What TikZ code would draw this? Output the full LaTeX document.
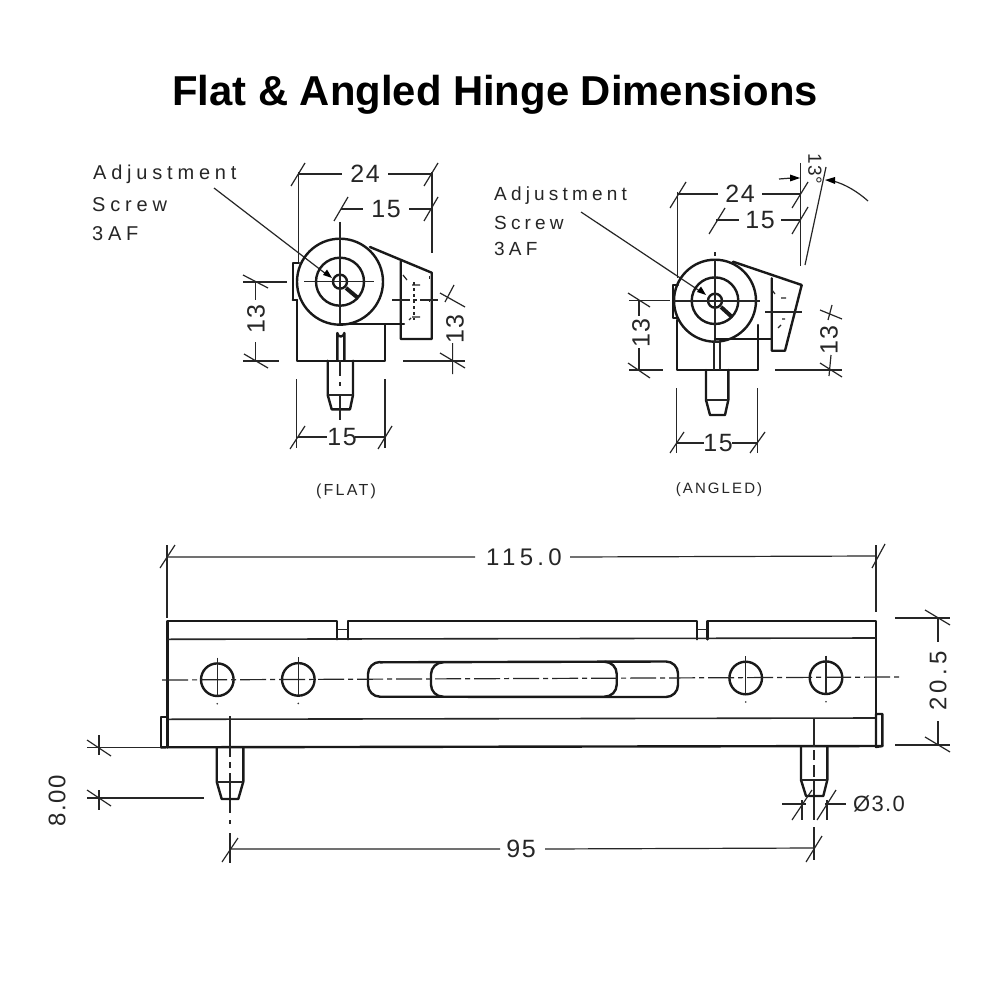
\documentclass[tikz,border=0pt]{standalone}
\usepackage{fontspec}
\setmainfont{Liberation Sans}
\newfontfamily\plotfont[LetterSpace=24]{Liberation Sans}
\newfontfamily\plottwo[LetterSpace=22]{Liberation Sans}
\newfontfamily\capfont[LetterSpace=14]{Liberation Sans}
\newfontfamily\dimfont[LetterSpace=6]{Liberation Sans}
\newfontfamily\widefont[LetterSpace=18]{Liberation Sans}
\tikzset{
  heavy/.style={line width=2.4pt,line join=round,line cap=round,black!90},
  medium/.style={line width=1.6pt,line join=round,black!85},
  thin/.style={line width=1.2pt,black!85},
  centre/.style={line width=1.2pt,black!85,dash pattern=on 26pt off 4pt on 5pt off 4pt},
  lbl/.style={font=\plotfont\fontsize{20}{20}\selectfont,text=black!85,inner sep=0pt,anchor=west},
  lbltwo/.style={font=\plottwo\fontsize{19}{19}\selectfont,text=black!85,inner sep=0pt,anchor=west},
  dimtxt/.style={font=\dimfont\fontsize{25}{26}\selectfont,text=black!85,inner sep=0pt},
  widetxt/.style={font=\widefont\fontsize{24}{26}\selectfont,text=black!85,inner sep=0pt},
  smalltxt/.style={font=\capfont\fontsize{16}{18}\selectfont,text=black!85,inner sep=0pt},
}
\begin{document}
\begin{tikzpicture}[x=1pt,y=-1pt]
\useasboundingbox (0,0) rectangle (1000,1000);
\fill[white] (0,0) rectangle (1000,1000);
\node[font=\bfseries\fontsize{41.8}{46}\selectfont,inner sep=0pt] (title) at (495,94.5) {Flat \& Angled Hinge Dimensions};

% ---------- FLAT VIEW ----------
\node[lbl] (flata) at (93,174.5) {Adjustment};
\node[lbl] (flatb) at (92,204.5) {Screw};
\node[lbl] (flatc) at (92,233.5) {3AF};
\draw[thin] (214,188) -- (328,275.5);
\fill (332,278) -- (323,275) -- (327,269.5) -- cycle;
\draw[heavy] (340,281.7) circle (43);
\draw[heavy] (340,281.7) circle (24);
\draw[heavy] (340,281.7) circle (7);
\draw[line width=4pt,black!90] (346,288) -- (358,298);
\draw[thin] (340,222) -- (340,325);
\draw[thin] (304,281.7) -- (374,281.7);
\draw[heavy] (296.7,300) -- (296.7,360.7) -- (385,360.7) -- (385,325);
\draw[heavy] (340,324) -- (404,324);
\draw[heavy] (370,247) -- (431.7,272.7) -- (431.7,339) -- (400.7,339) -- (400.7,261.7);
\draw[heavy] (292.7,300) -- (292.7,263) -- (299,263) (292.7,300) -- (297,300);
\draw[heavy] (337.3,360) -- (337.3,333) arc (180:0:3.5) -- (344.3,360);
\draw[heavy] (327.7,360.7) -- (327.7,395) -- (331.7,409.3) -- (350,409.3) -- (353,395) -- (353,360.7);
\draw[medium] (327.7,395) -- (353,395);
\draw[thin] (340,360) -- (340,376) (340,382) -- (340,386) (340,396) -- (340,420);
\draw[thin,dash pattern=on 18pt off 3pt on 4pt off 3pt] (392,300) -- (440,300);
\draw[thin,dashed] (414,282) -- (414,320);
\draw[thin] (403,275) -- (407,280) (412,285) -- (420,285) (412,317) -- (420,317) (409,320) -- (411,318);
\draw[thin,dash pattern=on 3pt off 20pt] (429.5,276) -- (429.5,318);
% flat dims
\draw[thin] (298.5,172) -- (298.5,262);
\draw[thin] (432,172) -- (432,253);
\draw[thin] (291,186) -- (305,163) (424,186) -- (438,163);
\draw[thin] (299,174) -- (342,174) (388,174) -- (432,174);
\node[dimtxt] (fd24) at (365,174) {24};
\draw[thin] (334,221) -- (348,197) (424,221) -- (438,197);
\draw[thin] (341,209) -- (363,209) (409,209) -- (432,209);
\node[dimtxt] (fd15) at (386,209) {15};
\draw[thin] (243,282) -- (287,282) (243,361) -- (279,361);
\draw[thin] (243,275) -- (268,288) (244,354) -- (268,368);
\draw[thin] (255.5,282) -- (255.5,300) (255.5,342) -- (255.5,361);
\node[dimtxt,rotate=90] (fd13a) at (256,319) {13};
\draw[thin] (403,361) -- (465,361);
\draw[thin] (440,293) -- (465,307) (440,353) -- (465,368);
\draw[thin] (454,285) -- (445,302) (452.6,343) -- (452.6,374);
\node[dimtxt,rotate=90] (fd13b) at (455,329) {13};
\draw[thin] (296.7,379) -- (296.7,448) (385,379) -- (385,448);
\draw[thin] (290,449) -- (305,426) (378,449) -- (392,426);
\draw[thin] (298,437) -- (327,437) (355,437) -- (385,437);
\node[dimtxt] (fd15b) at (342,437) {15};
\node[smalltxt] (flatcap) at (346,491) {(FLAT)};

% ---------- ANGLED VIEW ----------
\node[lbltwo] (anga) at (494,196) {Adjustment};
\node[lbltwo] (angb) at (494,223) {Screw};
\node[lbltwo] (angc) at (494,249) {3AF};
\draw[thin] (581,212) -- (702,292.5);
\fill (706,295) -- (697,292) -- (701,286.5) -- cycle;
\draw[heavy] (715,300.7) circle (41);
\draw[heavy] (715,300.7) circle (23.3);
\draw[heavy] (715,300.7) circle (7);
\draw[line width=4pt,black!90] (721,307) -- (732,317);
\draw[thin] (715,252) -- (715,256);
\draw[medium] (715,260) -- (715,341);
\draw[medium] (672,300.7) -- (760,300.7);
\draw[heavy] (676.7,320) -- (676.7,370) -- (757.7,370) -- (757.7,325);
\draw[heavy] (715,339) -- (771.7,339);
\draw[heavy] (733,261.7) -- (801.7,285) -- (785,350.7) -- (771.7,350.7) -- (771.7,278.3);
\draw[heavy] (678,318) -- (673,318) -- (673,285) -- (678,285);
\draw[medium] (714,370) -- (714,341.7) -- (720,341.7) -- (720,370);
\draw[heavy] (706,370) -- (706,400) -- (710,415) -- (725,415) -- (728.3,400) -- (728.3,370);
\draw[medium] (706,400) -- (728.3,400);
\draw[thin] (765,312) -- (802,312);
\draw[thin] (772,290) -- (775,294) (781,298) -- (786,298) (782,319) -- (785,319) (778,328) -- (781,325);
% angled dims
\draw[thin] (677.5,192) -- (677.5,278);
\draw[thin] (800.5,163) -- (800.5,266);
\draw[thin] (826,167) -- (805,265);
\draw[thin] (670,208) -- (686,182) (792,208) -- (808,182);
\draw[thin] (678,194) -- (718,194) (762,194) -- (800,194);
\node[dimtxt] (ad24) at (740,194) {24};
\draw[thin] (709,234) -- (725,208) (792,234) -- (808,207);
\draw[thin] (716,220) -- (739,220) (781,220) -- (800,220);
\node[dimtxt] (ad15) at (760,220) {15};
\draw[thin] (779,179) -- (792,178);
\fill (800,178) -- (790,174.5) -- (790,181.5) -- cycle;
\draw[thin] (833,181) .. controls (845,184) and (858,192) .. (868,201);
\fill (825,180) -- (835,177) -- (835,184) -- cycle;
\node[dimtxt,rotate=-90,font=\dimfont\fontsize{19}{22}\selectfont] (ad13) at (815,169) {13°};
\draw[thin] (629,300.7) -- (670,300.7) (629,370) -- (663,370);
\draw[thin] (628,293) -- (650,307) (628,363) -- (650,378);
\draw[thin] (639,301) -- (639,316) (639,348) -- (639,370);
\node[dimtxt,rotate=90] (ad13a) at (641,333) {13};
\draw[thin] (775,370) -- (842,370);
\draw[thin] (820,310) -- (842,319);
\draw[thin] (820,363) -- (842,377);
\draw[thin] (832,305) -- (828,320) (831,355) -- (829,376);
\node[dimtxt,rotate=90] (ad13b) at (829,340) {13};
\draw[thin] (676.5,388) -- (676.5,453) (757.5,388) -- (757.5,453);
\draw[thin] (670,453) -- (684,432) (750,453) -- (765,432);
\draw[thin] (677,443) -- (704,443) (732,443) -- (758,443);
\node[dimtxt] (ad15b) at (718,443) {15};
\node[smalltxt,font=\capfont\fontsize{15}{18}\selectfont] (angcap) at (719,490) {(ANGLED)};

% ---------- LONG VIEW ----------
\draw[heavy] (167.3,717) -- (167.3,620.7) -- (336.7,620.7) -- (336.7,639.3);
\draw[heavy] (347.7,639.3) -- (347.7,620.7) -- (696.7,620.7) -- (696.7,639.3);
\draw[heavy] (707.3,639.3) -- (707.3,620.7) -- (876,620.7) -- (876,714);
\draw[medium] (167.3,639.3) -- (876,638);
\draw[medium] (336.7,629.3) -- (347.7,629.3) (696.7,629.3) -- (707.3,629.3);
\draw[medium] (167.3,719.3) -- (876,718);
\draw[heavy] (161,747.3) -- (161,717) -- (167.3,717) -- (167.3,747.3);
\draw[heavy] (876,747) -- (876,714) -- (882.3,714) -- (882.3,746) -- cycle;
\draw[heavy] (161,747.3) -- (882.3,746);
\foreach \n/\cx/\cy in {a/217.3/679.7,b/298.3/679.4,c/745.7/678,d/826/677.7}{
  \draw[heavy] (\cx,\cy) circle (16.3);
  \draw[thin] (\cx,\cy-22) -- (\cx,\cy+16);
  \fill[black!80] (\cx,\cy+24) circle (0.9);
}
\draw[heavy] (380,662.3) -- (666,661.5) arc (-90:0:12) -- (678,685) arc (0:90:12) -- (380,696.7) arc (90:180:12) -- (368,674) arc (180:270:12) -- cycle;
\draw[heavy] (443,662.3) arc (-90:-180:12) -- (431,684.7) arc (180:90:12);
\draw[heavy] (604.7,661.8) arc (-90:0:12) -- (616.7,684.7) arc (0:90:12);
\draw[centre] (162,680) -- (900,677);
% pin centre lines
\draw[thin] (230,716) -- (230,757) (230,762) -- (230,768) (230,773) -- (230,813) (230,820) -- (230,824) (230,833) -- (230,863);
\draw[thin] (814,718) -- (814,747) (814,750) -- (814,760) (814,765) -- (814,777) (814,781) -- (814,820) (814,827) -- (814,860);
\draw[thin] (167,545) -- (167,618) (876,545) -- (876,612);
% pins
\draw[heavy] (216.7,747.3) -- (216.7,781.7) -- (221.7,799) -- (238.3,799) -- (243.3,781.7) -- (243.3,747.3);
\draw[medium] (216.7,781.7) -- (243.3,781.7);
\draw[heavy] (801,747) -- (801,780) -- (806,796) -- (823.3,796) -- (827.3,780) -- (827.3,747);
\draw[medium] (801,780) -- (827.3,780);
% long dims
\draw[thin] (160,568) -- (175,545) (872,568) -- (885,544);
\draw[thin] (168,557) -- (475,557) (570,557) -- (876,556);
\node[widetxt] (ld115) at (524,557) {115.0};
\draw[thin] (895,618) -- (950,618) (895,745) -- (950,745);
\draw[thin] (925,610) -- (950,625) (925,737) -- (950,752);
\draw[thin] (938,618) -- (938,642) (938,721) -- (938,745);
\node[widetxt,rotate=90] (ld205) at (938,681) {20.5};
\draw[thin] (87,747.5) -- (161,747.5) (87,798) -- (204,798);
\draw[thin] (87,740) -- (111,756) (87,790) -- (111,806);
\draw[thin] (99,735) -- (99,755) (99,790) -- (99,810);
\node[dimtxt,rotate=90,font=\dimfont\fontsize{24}{26}\selectfont] (ld800) at (57,801) {8.00};
\draw[thin] (222,862) -- (238,838) (806,862) -- (822,836);
\draw[thin] (230,849) -- (500,849) (545,849) -- (814,848);
\node[dimtxt] (ld95) at (521,849) {95};
\draw[thin] (782,804) -- (806,804) (825,804) -- (846,804);
\draw[thin] (792,820) -- (812,790) (817,820) -- (836,790);
\draw[thin] (802,800) -- (802,820) (827,800) -- (827,820);
\node[dimtxt,font=\dimfont\fontsize{22}{26}\selectfont] (ldphi) at (879,804) {Ø3.0};
\end{tikzpicture}
\end{document}
